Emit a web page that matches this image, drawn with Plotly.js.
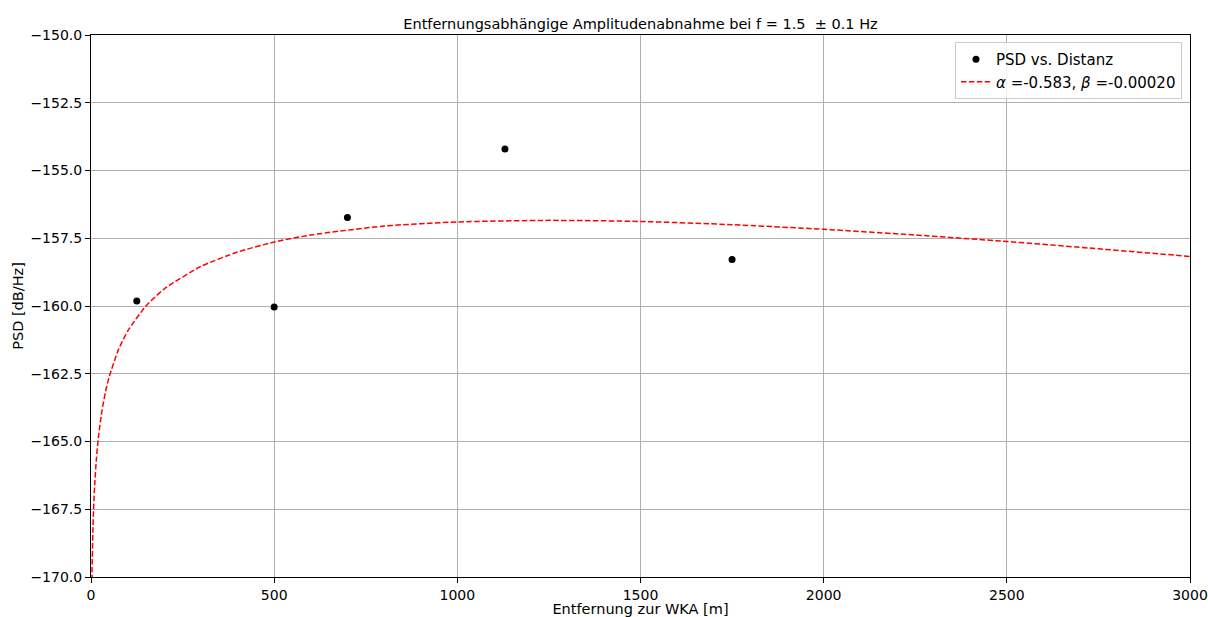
<!DOCTYPE html>
<html>
<head>
<meta charset="utf-8">
<script src="https://cdn.plot.ly/plotly-3.0.1.min.js"></script>
<style>html,body{margin:0;padding:0;background:#fff;}#chart{width:1208px;height:617px;}</style>
</head>
<body>
<div id="chart"></div>
<script>
// measured points
const distance = [125, 500, 700, 1130, 1750];
const psd = [-159.82, -160.04, -156.73, -154.21, -158.28];

// fitted curve
const fitDistance = [2, 2.5, 3, 5, 7, 10, 15, 20, 30, 40, 50, 75, 100, 150, 200, 300, 400, 500, 600, 800, 1000, 1250, 1500, 1750, 2000, 2250, 2500, 2750, 3000];
const fitPsd = [-170.70, -170.13, -169.67, -168.37, -167.51, -166.61, -165.60, -164.87, -163.86, -163.14, -162.60, -161.61, -160.93, -160.00, -159.37, -158.54, -158.01, -157.64, -157.38, -157.05, -156.90, -156.84, -156.88, -157.00, -157.17, -157.38, -157.62, -157.89, -158.17];

const yTicks = [-170, -167.5, -165, -162.5, -160, -157.5, -155, -152.5, -150];
const xTicks = [0, 500, 1000, 1500, 2000, 2500, 3000];

const font = {family: 'DejaVu Sans', size: 14, color: '#000'};

const traces = [
  {
    x: distance, y: psd, type: 'scatter', mode: 'markers',
    name: 'PSD vs. Distanz',
    marker: {color: '#000', size: 7}
  },
  {
    x: fitDistance, y: fitPsd, type: 'scatter', mode: 'lines',
    name: '<i>α</i> =-0.583, <i>β</i> =-0.00020',
    line: {color: '#ff0000', width: 1.5, dash: '5.5px,2.4px', shape: 'spline', smoothing: 0.6}
  }
];

const axisCommon = {
  showline: true, mirror: true, linecolor: '#000', linewidth: 1,
  ticks: 'outside', ticklen: 5, tickwidth: 1, tickcolor: '#000',
  showgrid: true, gridcolor: '#b0b0b0', gridwidth: 1, zeroline: false,
  tickfont: font
};

const layout = {
  width: 1208, height: 617,
  margin: {l: 91, r: 18, t: 35, b: 40},
  paper_bgcolor: '#fff', plot_bgcolor: '#fff',
  font: font,
  title: {text: 'Entfernungsabhängige Amplitudenabnahme bei f = 1.5  ± 0.1 Hz', font: {family: 'DejaVu Sans', size: 14.5, color: '#000'}, x: 0.5, xref: 'paper', y: 1 - 24/617, yanchor: 'middle', yref: 'container'},
  xaxis: Object.assign({}, axisCommon, {
    range: [0, 3000], tickvals: xTicks, ticktext: xTicks.map(String),
    title: {text: 'Entfernung zur WKA [m]', font: {family: 'DejaVu Sans', size: 14.5, color: '#000'}, standoff: 3}
  }),
  yaxis: Object.assign({}, axisCommon, {
    range: [-170, -150], tickvals: yTicks, tickformat: '.1f',
    title: {text: 'PSD [dB/Hz]', font: {family: 'DejaVu Sans', size: 14.5, color: '#000'}, standoff: 3}
  }),
  showlegend: true,
  legend: {
    x: 0.9927, y: 0.987, xanchor: 'right', yanchor: 'top',
    bgcolor: 'rgba(255,255,255,0.8)', bordercolor: '#cccccc', borderwidth: 1,
    font: {family: 'DejaVu Sans', size: 15, color: '#000'}, itemwidth: 30, tracegroupgap: 0
  }
};

Plotly.newPlot('chart', traces, layout, {displayModeBar: false, staticPlot: true});
</script>
</body>
</html>
